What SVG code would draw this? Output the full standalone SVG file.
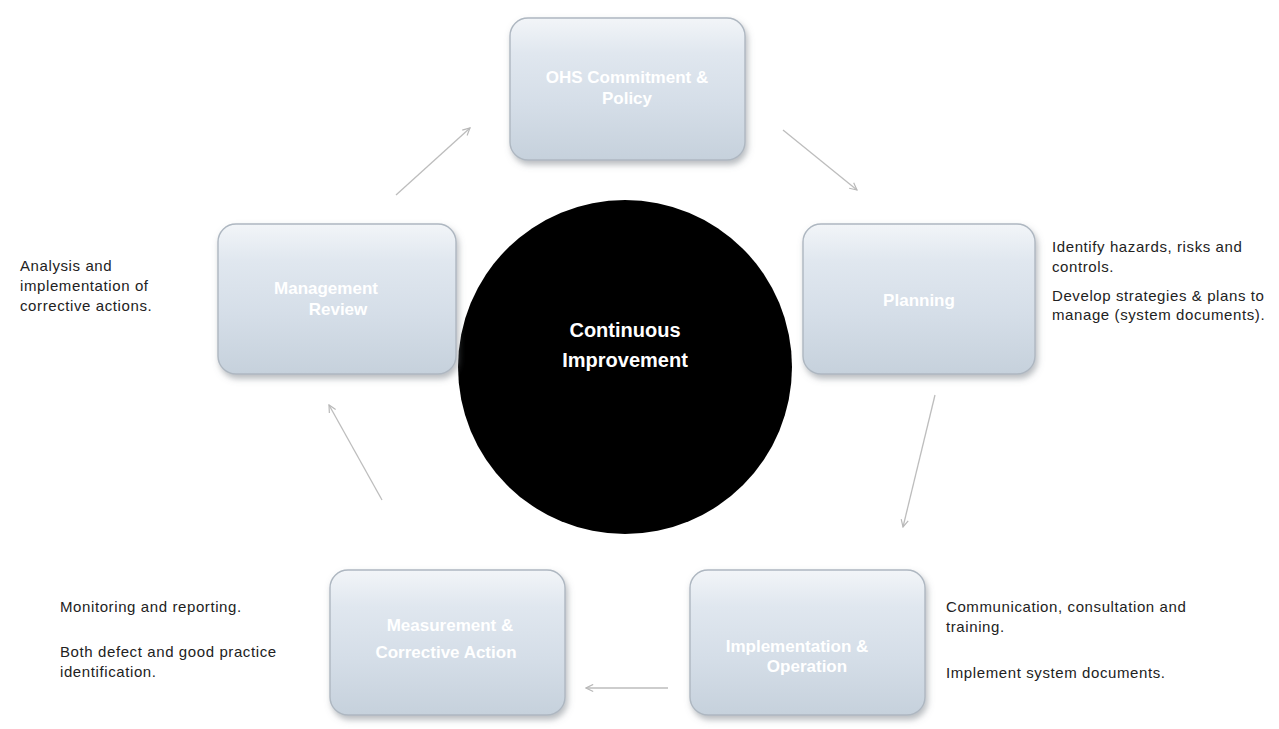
<svg xmlns="http://www.w3.org/2000/svg" width="1279" height="729" viewBox="0 0 1279 729">
<defs>
<linearGradient id="boxg" x1="0" y1="0" x2="0" y2="1">
<stop offset="0" stop-color="#f2f5f8"/>
<stop offset="0.25" stop-color="#e0e7ef"/>
<stop offset="0.6" stop-color="#d5dee8"/>
<stop offset="1" stop-color="#c6d1dc"/>
</linearGradient>
<filter id="sh" x="-10%" y="-10%" width="125%" height="130%">
<feDropShadow dx="2" dy="4" stdDeviation="3" flood-color="#6f7780" flood-opacity="0.5"/>
</filter>
<marker id="ah" viewBox="0 0 10 10" refX="9" refY="5" markerWidth="9" markerHeight="9" orient="auto" markerUnits="userSpaceOnUse">
<path d="M1,1 L9,5 L1,9" fill="none" stroke="#b8b8b8" stroke-width="1.3"/>
</marker>
</defs>
<style>
.box{fill:url(#boxg);stroke:#aeb7c1;stroke-width:1.4;filter:url(#sh)}
.lbl{font-family:"Liberation Sans",Arial,sans-serif;font-size:17px;font-weight:bold;fill:#ffffff;text-anchor:middle}
.note{font-family:"Liberation Sans",Arial,sans-serif;font-size:15px;letter-spacing:0.6px;fill:#222222}
.con{fill:none;stroke:#bdbdbd;stroke-width:1.3;marker-end:url(#ah)}
.ctr{font-family:"Liberation Sans",Arial,sans-serif;font-size:20px;font-weight:bold;fill:#ffffff;text-anchor:middle}
</style>
<rect width="1279" height="729" fill="#ffffff"/>
<g id="connectors">
<line class="con" x1="396" y1="195" x2="470" y2="128"/>
<line class="con" x1="783" y1="130" x2="857" y2="190"/>
<line class="con" x1="935" y1="395" x2="903" y2="527"/>
<line class="con" x1="668" y1="688" x2="586" y2="688"/>
<line class="con" x1="382" y1="500" x2="329" y2="405"/>
</g>
<g id="center">
<circle cx="625" cy="367" r="167" fill="#000000"/>
<text class="ctr" x="625" y="337">Continuous</text>
<text class="ctr" x="625" y="367">Improvement</text>
</g>
<g id="node-policy">
<rect class="box" x="510" y="18" width="235" height="142" rx="18"/>
<text class="lbl" x="627" y="83">OHS Commitment &amp;</text>
<text class="lbl" x="627" y="104">Policy</text>
</g>
<g id="node-planning">
<rect class="box" x="803" y="224" width="232" height="150" rx="18"/>
<text class="lbl" x="919" y="306">Planning</text>
</g>
<g id="node-implementation">
<rect class="box" x="690" y="570" width="235" height="145" rx="18"/>
<text class="lbl" x="797" y="652">Implementation &amp;</text>
<text class="lbl" x="807" y="672">Operation</text>
</g>
<g id="node-measurement">
<rect class="box" x="330" y="570" width="235" height="145" rx="18"/>
<text class="lbl" x="450" y="631">Measurement &amp;</text>
<text class="lbl" x="446" y="658">Corrective Action</text>
</g>
<g id="node-review">
<rect class="box" x="218" y="224" width="238" height="150" rx="18"/>
<text class="lbl" x="326" y="294">Management</text>
<text class="lbl" x="338" y="315">Review</text>
</g>
<g id="notes">
<text class="note" x="20" y="271">Analysis and</text>
<text class="note" x="20" y="291">implementation of</text>
<text class="note" x="20" y="311">corrective actions.</text>
<text class="note" x="1052" y="252">Identify hazards, risks and</text>
<text class="note" x="1052" y="272">controls.</text>
<text class="note" x="1052" y="301">Develop strategies &amp; plans to</text>
<text class="note" x="1052" y="320">manage (system documents).</text>
<text class="note" x="60" y="612">Monitoring and reporting.</text>
<text class="note" x="60" y="657">Both defect and good practice</text>
<text class="note" x="60" y="677">identification.</text>
<text class="note" x="946" y="612">Communication, consultation and</text>
<text class="note" x="946" y="632">training.</text>
<text class="note" x="946" y="678">Implement system documents.</text>
</g>
</svg>
